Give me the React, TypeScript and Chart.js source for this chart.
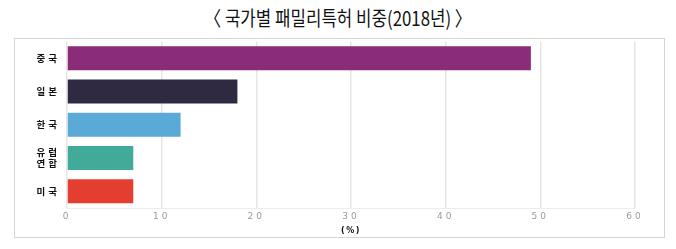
import React, { useEffect, useRef } from "react";
import { Chart, registerables } from "chart.js";

Chart.register(...registerables);

const titleText = "〈 국가별 패밀리특허 비중(2018년) 〉";
const categories: (string | string[])[] = ["중국", "일본", "한국", ["유럽", "연합"], "미국"];
const shares = [49.0, 18.0, 12.0, 7.0, 7.0];
const barColors = ["#8A2C77", "#2F2A42", "#5AAAD8", "#42AA99", "#E33E2F"];
const xMin = 0;
const xMax = 60;
const xStep = 10;
const xTitle = "(%)";

const spacingPlugin = {
  id: "letterSpacing",
  beforeDraw(chart: any) {
    chart.ctx.letterSpacing = "1.5px";
  },
  afterDatasetsDraw(chart: any) {
    chart.ctx.letterSpacing = "3px";
  },
  afterDraw(chart: any) {
    chart.ctx.letterSpacing = "0px";
  },
};

export default function App() {
  const ref = useRef<HTMLCanvasElement | null>(null);

  useEffect(() => {
    if (!ref.current) return;
    const chart = new Chart(ref.current, {
      type: "bar",
      data: {
        labels: categories,
        datasets: [
          {
            data: shares,
            backgroundColor: barColors,
            borderWidth: 0,
          },
        ],
      },
      options: {
        indexAxis: "y",
        animation: false,
        responsive: false,
        devicePixelRatio: 1,
        layout: { padding: { left: 14, right: 41, top: 41.5, bottom: 12 } },
        plugins: {
          legend: { display: false },
          tooltip: { enabled: false },
          title: { display: false },
        },
        scales: {
          x: {
            min: xMin,
            max: xMax,
            ticks: {
              stepSize: xStep,
              color: "#9a9a9a",
              font: { family: "'DejaVu Sans'", size: 9 },
              padding: 3,
              z: 1,
            },
            grid: { color: "#e6e6e6", lineWidth: 1.5, drawTicks: false },
            border: { display: true, color: "#ececec" },
            title: {
              display: true,
              text: xTitle,
              color: "#111",
              font: { family: "'DejaVu Sans'", size: 8, weight: "bold" },
              padding: { top: 0, bottom: 1.6 },
            },
            afterFit(s: any) {
              s.height = 29;
            },
          },
          y: {
            ticks: {
              color: "#111",
              font: { family: "'Noto Sans CJK KR'", size: 9.5, weight: "bold", lineHeight: 1.2 },
              padding: 7,
              z: 1,
            },
            grid: { display: false, drawTicks: false },
            border: { display: false },
            afterFit(s: any) {
              s.width = 53;
            },
          },
        },
      } as any,
      plugins: [spacingPlugin],
    });
    return () => chart.destroy();
  }, []);

  return (
    <div style={{ position: "absolute", left: 0, top: 0, width: 676, height: 249, background: "#fff" }}>
      <div
        style={{
          position: "absolute",
          left: 0,
          top: 6,
          width: 676,
          height: 24,
          lineHeight: "24px",
          textAlign: "center",
          fontFamily: "'Noto Sans CJK KR'",
          fontSize: 20,
          color: "#111",
          transform: "scaleX(0.84)",
          whiteSpace: "nowrap",
        }}
      >
        {titleText}
      </div>
      <div
        style={{
          position: "absolute",
          left: 14,
          top: 38,
          width: 649,
          height: 198,
          border: "1px solid #d4d4d4",
        }}
      />
      <canvas ref={ref} width={676} height={249} style={{ position: "absolute", left: 0, top: 0 }} />
    </div>
  );
}
